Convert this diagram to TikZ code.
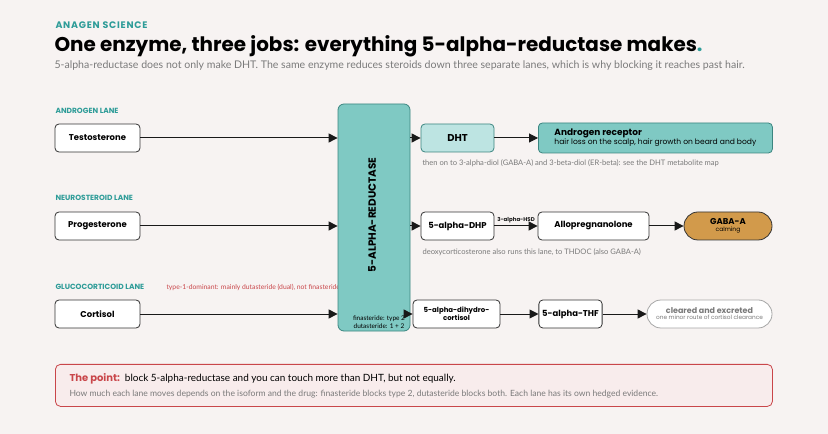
\documentclass[tikz,border=0pt]{standalone}
\usepackage{fontspec}
\setmainfont{Lato}
\newfontfamily\headfont{Poppins}
\newfontfamily\brandfont[LetterSpace=8]{Poppins}
\usetikzlibrary{positioning,arrows.meta}
\definecolor{bgpage}{HTML}{F7F3F2}
\definecolor{tealdark}{HTML}{2E9C98}
\definecolor{tealfill}{HTML}{7FC9C3}
\definecolor{tealpale}{HTML}{BDE4E2}
\definecolor{tealline}{HTML}{3B8580}
\definecolor{goldfill}{HTML}{D29A4B}
\definecolor{notered}{HTML}{C9464A}
\definecolor{pinkfill}{HTML}{F8ECEC}
\definecolor{greytext}{HTML}{7A7A7A}
\tikzset{
  stage/.style={draw=black!80,line width=0.8pt,rounded corners=4pt,fill=white,minimum height=28bp,align=center,font=\headfont\bfseries\fontsize{8.5}{10}\selectfont},
  lane/.style={anchor=west,text=tealdark,font=\headfont\bfseries\fontsize{7.5}{9}\selectfont},
  hint/.style={anchor=west,text=greytext,font=\fontsize{7.6}{9}\selectfont},
  flow/.style={-{Triangle[length=9pt,width=9pt]},line width=1pt,black!90},
}
\begin{document}
\begin{tikzpicture}[x=1bp,y=-1bp]
\useasboundingbox[fill=bgpage] (0,0) rectangle (828,434);
%% header
\node[anchor=west,text=tealdark,font=\brandfont\bfseries\fontsize{9.5}{11}\selectfont] (brand) at (52,25) {ANAGEN SCIENCE};
\node[anchor=west,font=\headfont\bfseries\fontsize{20}{22}\selectfont] (title) at (51,46) {One enzyme, three jobs: everything 5-alpha-reductase makes\textcolor{tealdark}{.}};
\node[anchor=west,text=greytext,font=\fontsize{10.6}{12}\selectfont] (sub) at (51,66) {5-alpha-reductase does not only make DHT. The same enzyme reduces steroids down three separate lanes, which is why blocking it reaches past hair.};
%% lanes
\node[lane] (l1) at (52,111) {ANDROGEN LANE};
\node[lane] (l2) at (52,198) {NEUROSTEROID LANE};
\node[lane] (l3) at (52,287) {GLUCOCORTICOID LANE};
\node[anchor=west,text=notered,font=\fontsize{6.8}{8}\selectfont] (l3note) at (163,287) {type-1-dominant: mainly dutasteride (dual), not finasteride};
%% enzyme
\node[draw=tealline,fill=tealfill,line width=0.8pt,rounded corners=6pt,minimum width=72bp,minimum height=227bp] (enz) at (374,217.5) {};
\node[rotate=90,font=\headfont\bfseries\fontsize{10.5}{12}\selectfont] (enzname) at (372,215) {5-ALPHA-REDUCTASE};
\node[align=center,font=\fontsize{6.5}{8}\selectfont] (enzdrug) at (379,322) {finasteride: type 2\\dutasteride: 1 + 2};
%% androgen lane
\node[stage,minimum width=85bp] (testo) at (97.5,138) {Testosterone};
\node[stage,minimum width=73bp,fill=tealpale,draw=tealline,font=\headfont\bfseries\fontsize{10}{12}\selectfont] (dht) at (457.5,138) {DHT};
\node[stage,minimum width=234bp,minimum height=30bp,fill=tealfill,draw=tealline,align=left,anchor=west,font=\headfont\bfseries\fontsize{9}{11}\selectfont] (ar) at (538,138)
  {Androgen receptor\\[-2pt]{\fontsize{7.6}{9}\selectfont\mdseries hair loss on the scalp, hair growth on beard and body}};
\node[hint] (dhtnote) at (419,163) {then on to 3-alpha-diol (GABA-A) and 3-beta-diol (ER-beta): see the DHT metabolite map};
%% neurosteroid lane
\node[stage,minimum width=85bp] (prog) at (97.5,226) {Progesterone};
\node[stage,minimum width=73bp] (dhp) at (457.5,226) {5-alpha-DHP};
\node[stage,minimum width=111bp] (allo) at (593.5,226) {Allopregnanolone};
\node[stage,minimum width=88bp,rounded corners=14bp,fill=goldfill] (gaba) at (728,226) {GABA-A\\[-3pt]{\fontsize{6}{7}\selectfont\mdseries calming}};
\node[hint] (dhpnote) at (419,252) {deoxycorticosterone also runs this lane, to THDOC (also GABA-A)};
%% glucocorticoid lane
\node[stage,minimum width=85bp] (cort) at (97.5,314) {Cortisol};
\node[stage,minimum width=87bp,font=\headfont\bfseries\fontsize{7}{8}\selectfont] (dhc) at (456.5,314) {5-alpha-dihydro-\\cortisol};
\node[stage,minimum width=63bp] (thf) at (570.5,314) {5-alpha-THF};
\node[stage,minimum width=125bp,rounded corners=14bp,draw=black!35,text=greytext,font=\headfont\bfseries\fontsize{8}{9}\selectfont] (clear) at (709.5,314) {cleared and excreted\\[-3pt]{\fontsize{5.8}{7}\selectfont\mdseries one minor route of cortisol clearance}};
%% arrows
\draw[flow] (testo) -- (enz.west |- testo);
\draw[flow] (prog) -- (enz.west |- prog);
\draw[flow] (cort) -- (enz.west |- cort);
\draw[flow] (enz.east |- dht) -- (dht);
\draw[flow] (enz.east |- dhp) -- (dhp);
\draw[flow] (enz.east |- dhc) -- (dhc);
\draw[flow] (dht) -- (ar);
\draw[flow] (dhp) -- node[above=-1pt,font=\headfont\bfseries\fontsize{5.5}{6}\selectfont] {3-alpha-HSD} (allo);
\draw[flow] (allo) -- (gaba);
\draw[flow] (dhc) -- (thf);
\draw[flow] (thf) -- (clear);
%% takeaway
\node[draw=notered,fill=pinkfill,line width=0.8pt,rounded corners=5pt,minimum width=717bp,minimum height=42bp,anchor=north west] (point) at (55,364) {};
\node[anchor=west,font=\fontsize{10}{12}\selectfont] (pointtxt) at (66,379) {\textcolor{notered}{\headfont\bfseries The point:}\enspace block 5-alpha-reductase and you can touch more than DHT, but not equally.};
\node[hint,font=\fontsize{8.6}{10}\selectfont] (pointsub) at (66,394) {How much each lane moves depends on the isoform and the drug: finasteride blocks type 2, dutasteride blocks both. Each lane has its own hedged evidence.};
\end{tikzpicture}
\end{document}
